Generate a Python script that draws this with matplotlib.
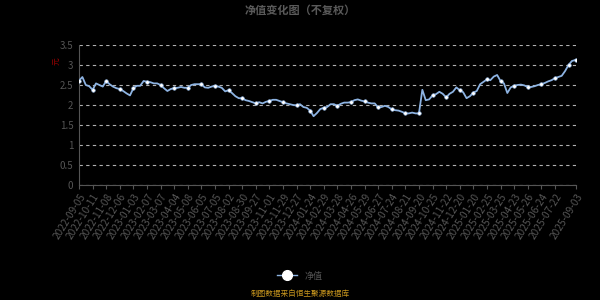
import matplotlib
matplotlib.use("Agg")
import matplotlib.pyplot as plt
from matplotlib.lines import Line2D
import numpy as np

plt.rcParams["font.family"] = ["Noto Sans CJK SC", "DejaVu Sans"]

nav = [
    2.61, 2.70, 2.50, 2.47, 2.38, 2.54, 2.50, 2.46, 2.60, 2.52,
    2.46, 2.42, 2.40, 2.35, 2.29, 2.24, 2.42, 2.48, 2.48, 2.60,
    2.58, 2.57, 2.54, 2.54, 2.50, 2.42, 2.35, 2.40, 2.42, 2.43,
    2.45, 2.43, 2.43, 2.50, 2.52, 2.52, 2.52, 2.44, 2.43, 2.46,
    2.48, 2.46, 2.43, 2.34, 2.37, 2.30, 2.22, 2.17, 2.17, 2.12,
    2.10, 2.07, 2.04, 2.07, 2.04, 2.08, 2.10, 2.13, 2.13, 2.10,
    2.07, 2.04, 2.02, 2.00, 1.99, 2.02, 1.95, 1.93, 1.86, 1.72,
    1.80, 1.90, 1.93, 1.95, 2.02, 2.02, 1.98, 2.03, 2.06, 2.06,
    2.07, 2.12, 2.14, 2.11, 2.09, 2.06, 2.04, 2.04, 1.94, 1.95,
    1.98, 1.95, 1.89, 1.87, 1.86, 1.83, 1.79, 1.79, 1.81, 1.79,
    1.79, 2.38, 2.12, 2.14, 2.24, 2.27, 2.33, 2.28, 2.19, 2.28,
    2.33, 2.44, 2.37, 2.32, 2.17, 2.22, 2.31, 2.35, 2.52, 2.58,
    2.64, 2.62, 2.71, 2.75, 2.60, 2.54, 2.30, 2.44, 2.48, 2.50,
    2.51, 2.49, 2.45, 2.45, 2.47, 2.50, 2.52, 2.55, 2.59, 2.62,
    2.67, 2.70, 2.73, 2.85, 3.00, 3.10, 3.13,
]

tick_labels = [
    "2022-09-05", "2022-10-11", "2022-11-08", "2022-12-06", "2023-01-03",
    "2023-02-07", "2023-03-07", "2023-04-04", "2023-05-08", "2023-06-05",
    "2023-07-05", "2023-08-02", "2023-08-30", "2023-09-27", "2023-11-01",
    "2023-11-29", "2023-12-27", "2024-01-24", "2024-02-29", "2024-03-28",
    "2024-04-26", "2024-05-29", "2024-06-27", "2024-07-24", "2024-08-21",
    "2024-09-20", "2024-10-25", "2024-11-22", "2024-12-20", "2025-01-20",
    "2025-02-25", "2025-03-25", "2025-04-23", "2025-05-26", "2025-06-24",
    "2025-07-22", "2025-09-03",
]

n_days = 731
x = np.arange(len(nav)) * 5
x[-1] = n_days
tick_pos = [i * 20 for i in range(len(tick_labels) - 1)] + [n_days]

line_color = "#8db3e2"
grey = "#555555"

fig = plt.figure(figsize=(6, 3), dpi=100, facecolor="black")
ax = fig.add_axes([79 / 600, 1 - 185 / 300, 497 / 600, 140 / 300])
ax.set_facecolor("black")

ax.plot(x, nav, color=line_color, lw=1.3, zorder=3)
ax.plot(x, nav, linestyle="none", marker="o", markersize=2.6,
        markerfacecolor="white", markeredgecolor=line_color,
        markeredgewidth=0.4, markevery=4, zorder=4)
ax.plot([x[-1]], [nav[-1]], linestyle="none", marker="o", markersize=2.6,
        markerfacecolor="white", markeredgecolor=line_color,
        markeredgewidth=0.4, zorder=4)

ax.set_xlim(0, n_days)
ax.set_ylim(0, 3.5)
ax.set_yticks(np.arange(0, 3.51, 0.5))
ax.set_yticklabels(["0", "0.5", "1", "1.5", "2", "2.5", "3", "3.5"])
ax.yaxis.grid(True, linestyle=(0, (3, 3)), color="#b0b0b0", lw=0.8)
ax.set_xticks(tick_pos)
ax.set_xticklabels(tick_labels, rotation=58, ha="right",
                   rotation_mode="anchor")

for s in ["top", "right"]:
    ax.spines[s].set_visible(False)
for s in ["left", "bottom"]:
    ax.spines[s].set_color(grey)
    ax.spines[s].set_linewidth(0.8)
ax.tick_params(axis="x", colors=grey, labelsize=7.3, length=3, width=0.8, pad=2)
ax.tick_params(axis="y", colors=grey, labelsize=7, length=0, pad=4)

fig.text(0.5, 0.965, "净值变化图（不复权）", ha="center", va="center",
         color="#5a5a5a", fontsize=8, fontweight="bold")
fig.text(57 / 600, 1 - 61 / 300, "元", ha="center", va="center",
         color="#990000", fontsize=5.5, rotation=90)

handle = Line2D([], [], color=line_color, lw=1.0, marker="o", markersize=7,
                markerfacecolor="white", markeredgecolor="white")
fig.legend([handle], ["净值"], loc="center", bbox_to_anchor=(0.5, 0.08),
           frameon=False, labelcolor=grey, fontsize=6.5, handlelength=2.2)
fig.text(0.5, 0.02, "制图数据来自恒生聚源数据库", ha="center", va="center",
         color="#c8961e", fontsize=5.5)

fig.savefig("out.png", dpi=100, facecolor="black")
